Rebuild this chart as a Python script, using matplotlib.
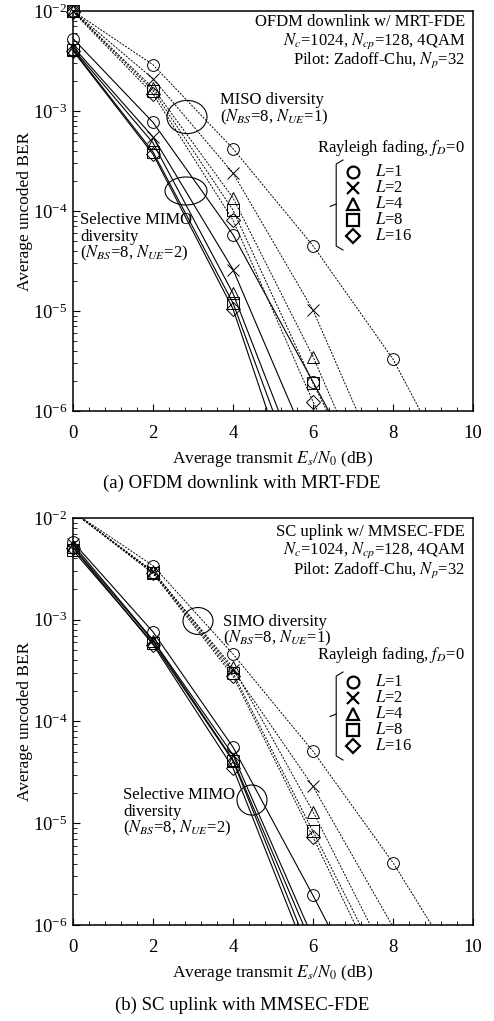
import numpy as np
import matplotlib
matplotlib.use("Agg")
import matplotlib.pyplot as plt
from matplotlib.patches import Ellipse

plt.rcParams['font.family'] = ['Liberation Serif', 'DejaVu Serif']
plt.rcParams['mathtext.fontset'] = 'stix'

# ===== data =====
L_NAMES = ['1', '2', '4', '8', '16']
MARKERS = ['o', 'x', '^', 's', 'D']

# (a) OFDM downlink, MISO diversity (dashed)
a_miso_snr = [[0, 2, 4, 6, 8, 10], [0, 2, 4, 6, 8], [0, 2, 4, 6, 8], [0, 2, 4, 6, 8], [0, 2, 4, 6, 8]]
a_miso_ber = [[1.0e-2, 2.9e-3, 4.2e-4, 4.5e-5, 3.3e-6, 1.0e-7],
              [1.0e-2, 2.1e-3, 2.4e-4, 1.02e-5, 1.5e-7],
              [1.0e-2, 1.7e-3, 1.35e-4, 3.5e-6, 5.0e-8],
              [1.0e-2, 1.6e-3, 1.02e-4, 1.9e-6, 4.8e-8],
              [9.8e-3, 1.48e-3, 8.1e-5, 1.24e-6, 3.0e-8]]
# (a) selective MIMO diversity (solid)
a_mimo_snr = [[0, 2, 4, 6, 8], [0, 2, 4, 6], [0, 2, 4, 6], [0, 2, 4, 6], [0, 2, 4, 6]]
a_mimo_ber = [[5.3e-3, 7.7e-4, 5.8e-5, 1.95e-6, 6.6e-8],
              [4.4e-3, 5.5e-4, 2.6e-5, 3.5e-7],
              [4.2e-3, 4.8e-4, 1.5e-5, 1.3e-7],
              [4.1e-3, 3.9e-4, 1.2e-5, 8.3e-8],
              [4.0e-3, 3.7e-4, 1.05e-5, 4.4e-8]]

# (b) SC uplink, SIMO diversity (dashed)
b_simo_snr = [[0, 2, 4, 6, 8, 10], [0, 2, 4, 6, 8], [0, 2, 4, 6, 8], [0, 2, 4, 6, 8], [0, 2, 4, 6, 8]]
b_simo_ber = [[1.15e-2, 3.4e-3, 4.6e-4, 5.1e-5, 4.1e-6, 2.2e-7],
              [1.15e-2, 3.0e-3, 3.2e-4, 2.3e-5, 9.6e-7],
              [1.15e-2, 2.95e-3, 3.4e-4, 1.3e-5, 3.6e-7],
              [1.15e-2, 2.9e-3, 3.0e-4, 8.3e-6, 2.3e-7],
              [1.15e-2, 2.85e-3, 2.8e-4, 7.3e-6, 1.7e-7]]
# (b) selective MIMO diversity (solid)
b_mimo_snr = [[0, 2, 4, 6, 8], [0, 2, 4, 6], [0, 2, 4, 6], [0, 2, 4, 6], [0, 2, 4, 6]]
b_mimo_ber = [[5.8e-3, 7.6e-4, 5.6e-5, 1.95e-6, 5.9e-8],
              [5.5e-3, 6.3e-4, 4.7e-5, 7.4e-7],
              [5.2e-3, 6.2e-4, 4.2e-5, 6.0e-7],
              [4.8e-3, 5.9e-4, 4.1e-5, 4.5e-7],
              [5.1e-3, 5.7e-4, 3.5e-5, 3.6e-7]]
# ==========================================

YMIN, YMAX = 1e-6, 1e-2


def draw_curves(ax, snr_list, ber_list, dashed):
    for snr, ber, m in zip(snr_list, ber_list, MARKERS):
        snr = np.array(snr, float)
        ber = np.array(ber, float)
        if dashed:
            ax.plot(snr, ber, color='black', lw=0.7, dashes=(2.0, 1.4))
        else:
            ax.plot(snr, ber, color='black', lw=0.8)
        # markers only where the point sits inside the plotted range
        keep = (ber >= YMIN * 0.999) & (ber <= YMAX * 1.001)
        ms = 7 if m == 'D' else (9 if m in ('^', 'x') else 8.5)
        ax.plot(snr[keep], ber[keep], ls='none', marker=m, ms=ms, mfc='none',
                mec='black', mew=0.7, clip_on=False)


def draw_legend(ax, ys, y_head, br_top, br_bot, br_mid):
    ax.text(0.98, y_head, r'Rayleigh fading, $f_D$=0', transform=ax.transAxes,
            ha='right', va='center', fontsize=12)
    for y, m, name in zip(ys, MARKERS, L_NAMES):
        ms = 7 if m == 'D' else (8 if m == 'x' else 8.5)
        ax.plot([0.70], [y], transform=ax.transAxes, ls='none', marker=m, ms=ms,
                mfc='none', mec='black', mew=1.6, clip_on=False)
        ax.text(0.755, y, r'$L$=' + name, transform=ax.transAxes,
                ha='left', va='center', fontsize=12)
    # bracket grouping the legend entries
    ax.plot([0.675, 0.658, 0.658, 0.675], [br_top, br_top - 0.01, br_bot + 0.01, br_bot],
            transform=ax.transAxes, color='black', lw=0.8)
    ax.plot([0.658, 0.643], [br_mid, br_mid - 0.006], transform=ax.transAxes,
            color='black', lw=0.8)


def style_axes(ax):
    ax.set_yscale('log')
    ax.set_xlim(0, 10)
    ax.set_ylim(YMIN, YMAX)
    ax.set_xticks([0, 2, 4, 6, 8, 10])
    ax.set_xticks(np.arange(0, 10.01, 0.4), minor=True)
    ax.tick_params(which='both', direction='in', top=False, right=False,
                   labelsize=13.5)
    ax.tick_params(axis='x', which='major', length=5, pad=10)
    ax.tick_params(axis='y', which='major', length=5, pad=4)
    ax.tick_params(which='minor', length=3)
    for s in ax.spines.values():
        s.set_linewidth(1.1)
    ax.set_xlabel(r'Average transmit $E_s$/$N_0$ (dB)', fontsize=12.5, labelpad=5)
    ax.set_ylabel('Average uncoded BER', fontsize=12.5)
    ax.yaxis.set_label_coords(-0.1, 0.5)


fig = plt.figure(figsize=(4.94, 10.21), dpi=100)
ax1 = fig.add_axes([73 / 494, 1 - 411 / 1021, 400 / 494, 400 / 1021])
ax2 = fig.add_axes([73 / 494, 1 - 925 / 1021, 400 / 494, 407 / 1021])

# ---- (a) ----
draw_curves(ax1, a_miso_snr, a_miso_ber, dashed=True)
draw_curves(ax1, a_mimo_snr, a_mimo_ber, dashed=False)
style_axes(ax1)
for y, s in zip([0.9725, 0.925, 0.8775],
                ['OFDM downlink w/ MRT-FDE',
                 r'$N_c$=1024, $N_{cp}$=128, 4QAM',
                 r'Pilot: Zadoff-Chu, $N_p$=32']):
    ax1.text(0.98, y, s, transform=ax1.transAxes, ha='right', va='center', fontsize=12)
ax1.text(0.3675, 0.7775, 'MISO diversity', transform=ax1.transAxes, va='center', fontsize=12)
ax1.text(0.3675, 0.735, r'($N_{BS}$=8, $N_{UE}$=1)', transform=ax1.transAxes, va='center', fontsize=12)
ax1.add_patch(Ellipse((0.285, 0.735), 0.10, 0.083, transform=ax1.transAxes,
                      fill=False, lw=0.8, color='black'))
ax1.add_patch(Ellipse((0.2825, 0.55), 0.105, 0.07, transform=ax1.transAxes,
                      fill=False, lw=0.8, color='black'))
ax1.text(0.0175, 0.4775, 'Selective MIMO', transform=ax1.transAxes, va='center', fontsize=12)
ax1.text(0.0175, 0.435, 'diversity', transform=ax1.transAxes, va='center', fontsize=12)
ax1.text(0.0175, 0.395, r'($N_{BS}$=8, $N_{UE}$=2)', transform=ax1.transAxes, va='center', fontsize=12)
draw_legend(ax1, [0.5975, 0.5575, 0.5175, 0.4775, 0.4375], 0.6575, 0.6275, 0.4025, 0.5175)

# ---- (b) ----
draw_curves(ax2, b_simo_snr, b_simo_ber, dashed=True)
draw_curves(ax2, b_mimo_snr, b_mimo_ber, dashed=False)
style_axes(ax2)
for y, s in zip([0.9656, 0.9214, 0.8722],
                ['SC uplink w/ MMSEC-FDE',
                 r'$N_c$=1024, $N_{cp}$=128, 4QAM',
                 r'Pilot: Zadoff-Chu, $N_p$=32']):
    ax2.text(0.98, y, s, transform=ax2.transAxes, ha='right', va='center', fontsize=12)
ax2.text(0.375, 0.7445, 'SIMO diversity', transform=ax2.transAxes, va='center', fontsize=12)
ax2.text(0.375, 0.705, r'($N_{BS}$=8, $N_{UE}$=1)', transform=ax2.transAxes, va='center', fontsize=12)
ax2.add_patch(Ellipse((0.3125, 0.747), 0.075, 0.066, transform=ax2.transAxes,
                      fill=False, lw=0.8, color='black'))
ax2.add_patch(Ellipse((0.4475, 0.307), 0.075, 0.074, transform=ax2.transAxes,
                      fill=False, lw=0.8, color='black'))
ax2.text(0.125, 0.3194, 'Selective MIMO', transform=ax2.transAxes, va='center', fontsize=12)
ax2.text(0.125, 0.2776, 'diversity', transform=ax2.transAxes, va='center', fontsize=12)
ax2.text(0.125, 0.2383, r'($N_{BS}$=8, $N_{UE}$=2)', transform=ax2.transAxes, va='center', fontsize=12)
draw_legend(ax2, [0.597, 0.558, 0.5184, 0.479, 0.4398], 0.6634, 0.6216, 0.4054, 0.5184)

fig.text(0.49, 1 - 483 / 1021, '(a) OFDM downlink with MRT-FDE', ha='center', va='center', fontsize=13.5)
fig.text(0.49, 1 - 1005 / 1021, '(b) SC uplink with MMSEC-FDE', ha='center', va='center', fontsize=13.5)

fig.savefig('out.png', dpi=100)
